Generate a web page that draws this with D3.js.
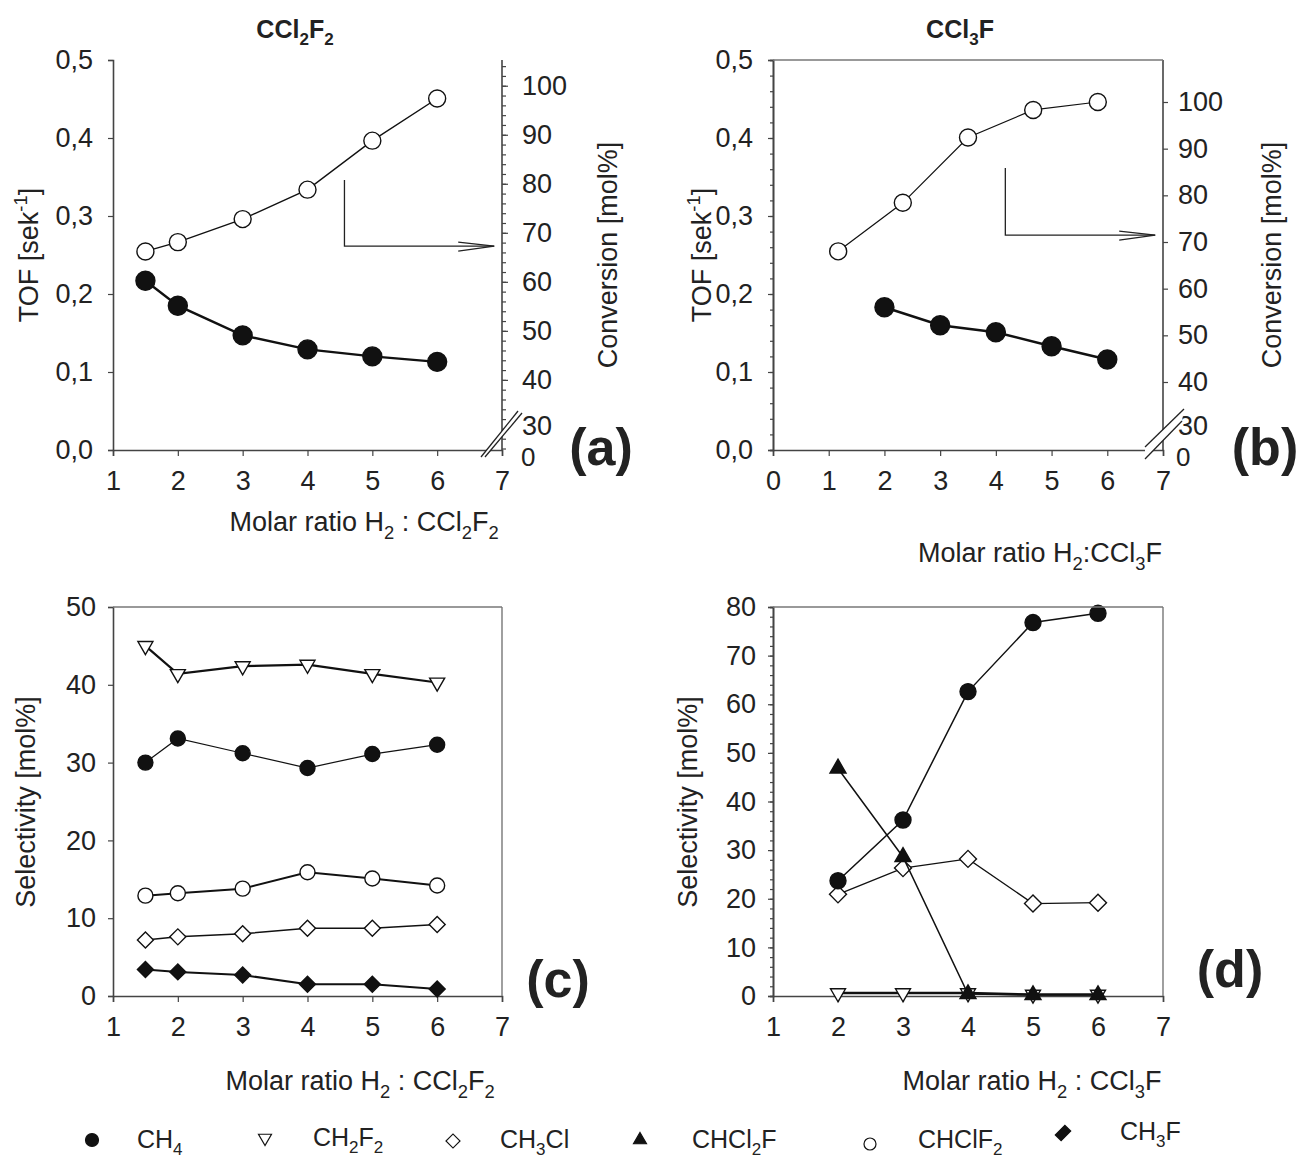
<html>
<head>
<script src="https://cdnjs.cloudflare.com/ajax/libs/d3/7.8.5/d3.min.js"></script>
<style>
  body { margin: 0; background: #fff; }
  svg { font-family: "Liberation Sans", Arial, sans-serif; }
</style>
</head>
<body>
<script>
// ---- data ----
// (a) CCl2F2 : TOF and conversion vs molar ratio
const ratioA = [1.5, 2, 3, 4, 5, 6];
const tofA = [0.217, 0.185, 0.147, 0.129, 0.120, 0.113];
const convA = [66.2, 68.1, 72.8, 78.8, 88.8, 97.4];

// (b) CCl3F
const ratioB = [2, 3, 4, 5, 6];
const tofB = [0.183, 0.160, 0.151, 0.133, 0.116];
const ratioConvB = [1.17, 2.33, 3.5, 4.67, 5.83];
const convB = [68.0, 78.4, 92.4, 98.3, 100.0];

// (c) selectivity, CCl2F2
const ratioC = [1.5, 2, 3, 4, 5, 6];
const selC_CH2F2 = [45.0, 41.4, 42.4, 42.6, 41.4, 40.3];
const selC_CH4 = [30.0, 33.1, 31.2, 29.3, 31.1, 32.3];
const selC_CHClF2 = [12.9, 13.2, 13.8, 15.9, 15.1, 14.2];
const selC_CH3Cl = [7.2, 7.6, 8.0, 8.7, 8.7, 9.2];
const selC_CH3F = [3.4, 3.1, 2.7, 1.5, 1.5, 0.9];

// (d) selectivity, CCl3F
const ratioD = [2, 3, 4, 5, 6];
const selD_CH4 = [23.7, 36.2, 62.6, 76.8, 78.7];
const selD_CHCl2F = [46.8, 28.6, 0.4, 0.2, 0.2];
const selD_CH3Cl = [20.9, 26.3, 28.2, 19.0, 19.2];
const selD_CH2F2 = [0.6, 0.6, 0.6, 0.3, 0.3];

const tofTicks = [0, 0.1, 0.2, 0.3, 0.4, 0.5];
const convTicks = [30, 40, 50, 60, 70, 80, 90, 100];
const ratioTicksA = [1, 2, 3, 4, 5, 6, 7];
const ratioTicksB = [0, 1, 2, 3, 4, 5, 6, 7];
const selTicksC = [0, 10, 20, 30, 40, 50];
const selTicksD = [0, 10, 20, 30, 40, 50, 60, 70, 80];

const legendNames = ["CH_{4}", "CH_{2}F_{2}", "CH_{3}Cl", "CHCl_{2}F", "CHClF_{2}", "CH_{3}F"];
const legendSymbols = ["circle", "tridown", "diamond", "triup", "ocircle", "fdiamond"];

// ---- helpers ----
const svg = d3.select("body").append("svg").attr("width", 1304).attr("height", 1160);
const AX = "#444";

function rich(t, str, fs) {
  const parts = str.split(/(_\{[^}]*\}|\^\{[^}]*\})/).filter(s => s.length);
  let cur = 0;
  parts.forEach(p => {
    let target = 0, txt = p, size = fs;
    if (p.startsWith("_{")) { target = 0.28 * fs; txt = p.slice(2, -1); size = fs * 0.68; }
    else if (p.startsWith("^{")) { target = -0.42 * fs; txt = p.slice(2, -1); size = fs * 0.68; }
    t.append("tspan").attr("dy", target - cur).attr("font-size", size).text(txt);
    cur = target;
  });
  return t;
}

function label(x, y, str, fs, opts = {}) {
  const t = svg.append("text").attr("x", x).attr("y", y)
    .attr("font-size", fs).attr("fill", "#222")
    .attr("text-anchor", opts.anchor || "middle")
    .attr("font-weight", opts.bold ? "bold" : "normal");
  if (opts.rotate) t.attr("transform", `rotate(-90,${x},${y})`);
  return rich(t, str, fs);
}

function symbolPath(kind, s) {
  if (kind === "circle" || kind === "ocircle") return d3.symbol(d3.symbolCircle, Math.PI * s * s)();
  if (kind === "tridown" || kind === "triup") return d3.symbol(d3.symbolTriangle, Math.sqrt(3) / 4 * s * s)();
  return d3.symbol(d3.symbolSquare, 2 * s * s)();
}
function symbolRot(kind) {
  if (kind === "tridown") return 180;
  if (kind === "diamond" || kind === "fdiamond") return 45;
  return 0;
}
function symbolFill(kind) {
  return (kind === "circle" || kind === "triup" || kind === "fdiamond") ? "#111" : "#fff";
}

function series(g, x, y, xs, ys, kind, size, lw) {
  const pts = xs.map((v, i) => [x(v), y(ys[i])]);
  g.append("path").attr("d", d3.line()(pts)).attr("fill", "none")
    .attr("stroke", "#111").attr("stroke-width", lw);
  g.selectAll(null).data(pts).enter().append("path")
    .attr("d", symbolPath(kind, size))
    .attr("transform", d => `translate(${d[0]},${d[1]}) rotate(${symbolRot(kind)})`)
    .attr("fill", symbolFill(kind)).attr("stroke", "#111").attr("stroke-width", 1.4);
}

function styleAxis(g, fs) {
  g.selectAll(".domain").attr("stroke", AX).attr("stroke-width", 1.6);
  g.selectAll(".tick line").attr("stroke", AX).attr("stroke-width", 1.2);
  g.selectAll(".tick text").attr("font-size", fs).attr("fill", "#222")
    .attr("font-family", "'Liberation Sans', Arial, sans-serif");
}

function frameLine(x1, y1, x2, y2) {
  svg.append("line").attr("x1", x1).attr("y1", y1).attr("x2", x2).attr("y2", y2)
    .attr("stroke", "#777").attr("stroke-width", 1.4);
}

function comma(d) { return d3.format(".1f")(d).replace(".", ","); }

function axisBreak(p1, p2) {
  // white band with two slanted strokes
  svg.append("polygon")
    .attr("points", [p1[0], p1[1], p2[0], p2[1], p2[2], p2[3], p1[2], p1[3]].join(","))
    .attr("fill", "#fff");
  [p1, p2].forEach(p => svg.append("line")
    .attr("x1", p[0]).attr("y1", p[1]).attr("x2", p[2]).attr("y2", p[3])
    .attr("stroke", "#222").attr("stroke-width", 1.3));
}

function arrow(x0, yTop, yMid, xTip) {
  const g = svg.append("g").attr("stroke", "#222").attr("fill", "none").attr("stroke-width", 1.3);
  g.append("path").attr("d", `M${x0},${yTop}V${yMid}H${xTip}`);
  g.append("path").attr("d", `M${xTip - 36},${yMid - 4}L${xTip},${yMid}L${xTip - 36},${yMid + 5}`);
}

const FS = 27;
const TS = 27;

// ---- panel (a) ----
{
  const x = d3.scaleLinear().domain([1, 7]).range([113, 502]);
  const y = d3.scaleLinear().domain([0, 0.5]).range([450, 60]);
  const yc = d3.scaleLinear().domain([40, 100]).range([y(0.0899), y(0.467)]);
  const g = svg.append("g");

  const ax = g.append("g").attr("transform", "translate(0,450)")
    .call(d3.axisBottom(x).tickValues(ratioTicksA).tickSize(6).tickPadding(15).tickFormat(d3.format("d")));
  styleAxis(ax, FS);
  const ay = g.append("g").attr("transform", "translate(113,0)")
    .call(d3.axisLeft(y).tickValues(tofTicks).tickSize(5).tickPadding(15).tickFormat(comma));
  styleAxis(ay, FS);
  const minor = d3.range(24, 106, 2).filter(v => yc(v) >= 60 && yc(v) <= 450);
  const ar = g.append("g").attr("transform", "translate(502,0)")
    .call(d3.axisRight(yc).tickValues(minor).tickSize(4).tickFormat(""));
  styleAxis(ar, FS);
  ar.select(".domain").attr("d", "M0,60V450");
  const arMaj = g.append("g").attr("transform", "translate(502,0)")
    .call(d3.axisRight(yc).tickValues(convTicks).tickSize(6).tickPadding(14).tickFormat(d3.format("d")));
  styleAxis(arMaj, FS);
  arMaj.select(".domain").remove();
  arMaj.selectAll(".tick").filter(d => d === 30).select("text").attr("dy", "0.2em");
  g.append("text").attr("x", 521).attr("y", 458).attr("dy", "0.32em")
    .attr("font-size", FS - 1).attr("fill", "#222").text("0");

  axisBreak([481, 457, 518, 411], [485, 457, 522, 413]);

  series(g, x, y, ratioA, tofA, "circle", 9.5, 2.4);
  series(g, x, yc, ratioA, convA, "ocircle", 8.5, 1.4);

  arrow(x(4.57), y(0.346), y(0.2615), x(6.88));

  label(295, 38, "CCl_{2}F_{2}", 25, { bold: true });
  label(38, 255, "TOF [sek^{-1}]", TS, { rotate: true });
  label(617, 255, "Conversion [mol%]", TS, { rotate: true });
  label(364, 531, "Molar ratio H_{2} : CCl_{2}F_{2}", TS);
  label(601, 465, "(a)", 52, { bold: true });
}

// ---- panel (b) ----
{
  const x = d3.scaleLinear().domain([0, 7]).range([773, 1163]);
  const y = d3.scaleLinear().domain([0, 0.5]).range([450, 60]);
  const yc = d3.scaleLinear().domain([40, 100]).range([382, 102]);
  const g = svg.append("g");

  frameLine(773, 60, 1163, 60);
  const ax = g.append("g").attr("transform", "translate(0,450)")
    .call(d3.axisBottom(x).tickValues(ratioTicksB).tickSize(6).tickPadding(15).tickFormat(d3.format("d")));
  styleAxis(ax, FS);
  const ayMin = g.append("g").attr("transform", "translate(773,0)")
    .call(d3.axisLeft(y).tickValues(d3.range(0, 0.501, 0.02)).tickSize(3).tickFormat(""));
  styleAxis(ayMin, FS);
  const ay = g.append("g").attr("transform", "translate(773,0)")
    .call(d3.axisLeft(y).tickValues(tofTicks).tickSize(5).tickPadding(15).tickFormat(comma));
  styleAxis(ay, FS);
  const ar = g.append("g").attr("transform", "translate(1163,0)")
    .call(d3.axisRight(yc).tickValues(convTicks).tickSize(5).tickPadding(10).tickFormat(d3.format("d")));
  styleAxis(ar, FS);
  ar.select(".domain").attr("d", "M0,60V450");
  ar.selectAll(".tick").filter(d => d === 30).select("text").attr("dy", "0.2em");
  g.append("text").attr("x", 1176).attr("y", 458).attr("dy", "0.32em")
    .attr("font-size", FS - 1).attr("fill", "#222").text("0");

  axisBreak([1145, 447, 1184, 409], [1145, 459, 1182, 421]);

  series(g, x, y, ratioB, tofB, "circle", 9.5, 2.4);
  series(g, x, yc, ratioConvB, convB, "ocircle", 8.5, 1.2);

  arrow(x(4.17), y(0.3615), y(0.2756), x(6.86));

  label(960, 38, "CCl_{3}F", 25, { bold: true });
  label(711, 255, "TOF [sek^{-1}]", TS, { rotate: true });
  label(1281, 255, "Conversion [mol%]", TS, { rotate: true });
  label(1040, 562, "Molar ratio H_{2}:CCl_{3}F", TS);
  label(1265, 465, "(b)", 52, { bold: true });
}

// ---- panel (c) ----
{
  const x = d3.scaleLinear().domain([1, 7]).range([113, 502]);
  const y = d3.scaleLinear().domain([0, 50]).range([996, 607]);
  const g = svg.append("g");

  frameLine(113, 607, 502, 607);
  frameLine(502, 607, 502, 996);
  const ax = g.append("g").attr("transform", "translate(0,996)")
    .call(d3.axisBottom(x).tickValues(ratioTicksA).tickSize(6).tickPadding(15).tickFormat(d3.format("d")));
  styleAxis(ax, FS);
  const ay = g.append("g").attr("transform", "translate(113,0)")
    .call(d3.axisLeft(y).tickValues(selTicksC).tickSize(5).tickPadding(12).tickFormat(d3.format("d")));
  styleAxis(ay, FS);

  series(g, x, y, ratioC, selC_CH2F2, "tridown", 15, 2.2);
  series(g, x, y, ratioC, selC_CH4, "circle", 7.5, 1.2);
  series(g, x, y, ratioC, selC_CHClF2, "ocircle", 7.5, 2);
  series(g, x, y, ratioC, selC_CH3Cl, "diamond", 8, 1.5);
  series(g, x, y, ratioC, selC_CH3F, "fdiamond", 8, 2);

  label(35, 802, "Selectivity [mol%]", TS, { rotate: true });
  label(360, 1090, "Molar ratio H_{2} : CCl_{2}F_{2}", TS);
  label(558, 997, "(c)", 52, { bold: true });
}

// ---- panel (d) ----
{
  const x = d3.scaleLinear().domain([1, 7]).range([773, 1163]);
  const y = d3.scaleLinear().domain([0, 80]).range([996, 607]);
  const g = svg.append("g");

  frameLine(773, 607, 1163, 607);
  frameLine(1163, 607, 1163, 996);
  const ax = g.append("g").attr("transform", "translate(0,996)")
    .call(d3.axisBottom(x).tickValues(ratioTicksA).tickSize(6).tickPadding(15).tickFormat(d3.format("d")));
  styleAxis(ax, FS);
  const ayMin = g.append("g").attr("transform", "translate(773,0)")
    .call(d3.axisLeft(y).tickValues(d3.range(0, 81, 2)).tickSize(3).tickFormat(""));
  styleAxis(ayMin, FS);
  const ay = g.append("g").attr("transform", "translate(773,0)")
    .call(d3.axisLeft(y).tickValues(selTicksD).tickSize(5).tickPadding(12).tickFormat(d3.format("d")));
  styleAxis(ay, FS);

  series(g, x, y, ratioD, selD_CH2F2, "tridown", 15, 2.5);
  series(g, x, y, ratioD, selD_CH3Cl, "diamond", 8.5, 1.3);
  series(g, x, y, ratioD, selD_CHCl2F, "triup", 16, 1.5);
  series(g, x, y, ratioD, selD_CH4, "circle", 8, 1.5);

  label(697, 802, "Selectivity [mol%]", TS, { rotate: true });
  label(1032, 1090, "Molar ratio H_{2} : CCl_{3}F", TS);
  label(1230, 987, "(d)", 52, { bold: true });
}

// ---- legend ----
{
  const symX = [92, 265, 453, 640, 870, 1063];
  const symY = [1140, 1138, 1141, 1140, 1144, 1133];
  const txtX = [137, 313, 500, 692, 918, 1120];
  const txtY = [1148, 1146, 1148, 1148, 1148, 1140];
  const sizes = [6.5, 13, 7, 13, 6, 7.5];
  legendSymbols.forEach((k, i) => {
    svg.append("path").attr("d", symbolPath(k, sizes[i]))
      .attr("transform", `translate(${symX[i]},${symY[i]}) rotate(${symbolRot(k)})${k === "fdiamond" ? " scale(0.8,1.25)" : ""}`)
      .attr("fill", symbolFill(k)).attr("stroke", "#111").attr("stroke-width", 1.2);
    label(txtX[i], txtY[i], legendNames[i], 25, { anchor: "start" });
  });
}
</script>
</body>
</html>
